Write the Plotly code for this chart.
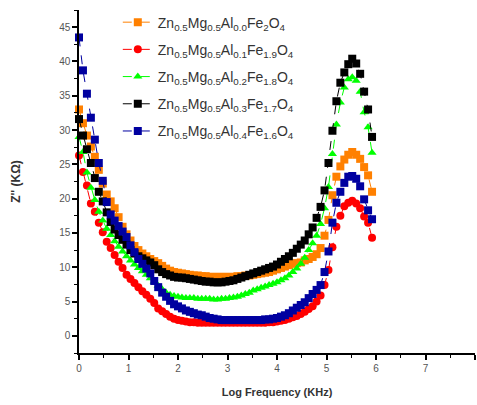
import plotly.graph_objects as go

# Log frequency (KHz) sweep points
log_freq = [
    0.00, 0.08, 0.16, 0.24, 0.32, 0.40, 0.48, 0.56, 0.64, 0.72,
    0.80, 0.88, 0.96, 1.04, 1.12, 1.20, 1.28, 1.36, 1.44, 1.52,
    1.60, 1.68, 1.76, 1.84, 1.92, 2.00, 2.08, 2.16, 2.24, 2.32,
    2.40, 2.48, 2.56, 2.64, 2.72, 2.80, 2.88, 2.96, 3.04, 3.12,
    3.20, 3.28, 3.36, 3.44, 3.52, 3.60, 3.68, 3.76, 3.84, 3.92,
    4.00, 4.08, 4.16, 4.24, 4.32, 4.40, 4.48, 4.56, 4.64, 4.72,
    4.80, 4.88, 4.96, 5.04, 5.12, 5.20, 5.28, 5.36, 5.44, 5.52,
    5.60, 5.68, 5.76, 5.84, 5.92,
]

# Z'' (KOhm) for each composition
z_al00 = [
    33.0, 31.0, 29.2, 27.6, 26.1, 24.2, 22.2, 20.6, 19.6, 18.6,
    17.3, 15.9, 14.8, 13.9, 13.1, 12.5, 12.0, 11.6, 11.2, 10.9,
    10.6, 10.2, 9.8, 9.5, 9.3, 9.2, 9.1, 9.0, 8.9, 8.8,
    8.8, 8.7, 8.7, 8.6, 8.6, 8.6, 8.6, 8.6, 8.6, 8.6,
    8.7, 8.7, 8.8, 8.8, 8.9, 9.0, 9.1, 9.2, 9.3, 9.5,
    9.7, 9.9, 10.1, 10.3, 10.5, 10.6, 10.7, 11.0, 11.2, 11.5,
    11.9, 12.8, 14.6, 16.9, 20.5, 23.2, 24.7, 25.7, 26.4, 26.8,
    26.4, 25.8, 24.6, 23.4, 21.0,
]
z_al01 = [
    26.3, 23.9, 21.9, 19.3, 18.1, 16.5, 15.1, 13.7, 12.8, 11.8,
    10.8, 9.9, 8.9, 8.3, 7.7, 7.1, 6.5, 6.0, 5.4, 4.8,
    4.0, 3.6, 3.2, 2.8, 2.5, 2.3, 2.2, 2.1, 2.0, 2.0,
    1.9, 1.9, 1.9, 1.9, 1.9, 1.9, 1.9, 1.9, 1.9, 1.9,
    1.9, 1.9, 1.9, 1.9, 1.9, 1.9, 1.9, 1.9, 2.0, 2.0,
    2.1, 2.2, 2.3, 2.5, 2.7, 2.9, 3.2, 3.5, 3.9, 4.3,
    5.0, 5.9, 7.4, 9.6, 12.9, 15.9, 17.5, 18.9, 19.4, 19.7,
    19.3, 18.6, 17.4, 16.5, 14.3,
]
z_al02 = [
    29.0, 26.8, 23.8, 21.6, 19.8, 18.1, 16.8, 15.6, 14.7, 13.8,
    13.0, 12.3, 11.6, 11.0, 10.4, 9.9, 9.4, 8.9, 8.4, 7.9,
    7.3, 6.8, 6.3, 6.0, 5.8, 5.7, 5.6, 5.5, 5.5, 5.5,
    5.4, 5.4, 5.4, 5.4, 5.3, 5.3, 5.4, 5.4, 5.5, 5.6,
    5.7, 5.9, 6.1, 6.3, 6.6, 6.8, 7.0, 7.2, 7.4, 7.6,
    7.8, 8.1, 8.4, 8.8, 9.3, 9.8, 10.5, 11.4, 12.5, 13.5,
    14.6, 16.3, 18.6, 21.7, 26.5, 30.8, 34.0, 36.2, 37.4, 37.7,
    37.2, 35.6, 32.6, 30.4, 26.7,
]
z_al03 = [
    31.6, 29.2, 27.2, 25.2, 23.0, 21.0, 19.6, 18.0, 16.6, 15.5,
    14.7, 14.0, 13.3, 12.5, 12.0, 11.6, 11.3, 11.0, 10.7, 10.3,
    9.7, 9.3, 9.0, 8.8, 8.6, 8.5, 8.5, 8.4, 8.3, 8.2,
    8.1, 8.0, 7.9, 7.9, 7.8, 7.8, 7.8, 7.9, 8.0, 8.1,
    8.3, 8.5, 8.7, 8.9, 9.1, 9.3, 9.5, 9.7, 9.9, 10.1,
    10.4, 10.8, 11.2, 11.6, 12.1, 12.7, 13.3, 13.9, 14.8, 15.8,
    17.2, 18.8, 21.2, 25.2, 29.9, 34.2, 36.9, 38.4, 39.6, 40.4,
    39.7, 38.2, 35.6, 33.0, 29.0,
]
z_al04 = [
    43.5, 38.7, 35.3, 31.8, 28.6, 25.2, 22.6, 19.5, 17.7, 16.8,
    16.0, 15.2, 14.4, 13.2, 12.2, 11.2, 10.5, 9.8, 9.1, 8.0,
    7.1, 6.3, 5.7, 5.1, 4.6, 4.3, 4.0, 3.7, 3.5, 3.3,
    3.1, 3.0, 2.8, 2.6, 2.5, 2.4, 2.3, 2.3, 2.3, 2.3,
    2.3, 2.3, 2.3, 2.3, 2.3, 2.3, 2.3, 2.4, 2.4, 2.5,
    2.6, 2.8, 3.0, 3.3, 3.7, 4.1, 4.5, 4.9, 5.5, 6.1,
    6.7, 7.4, 9.3, 12.3, 16.5, 19.4, 21.0, 22.3, 23.2, 23.3,
    22.9, 21.8, 19.9, 18.3, 17.0,
]

series_names = [
    "Zn<sub>0.5</sub>Mg<sub>0.5</sub>Al<sub>0.0</sub>Fe<sub>2</sub>O<sub>4</sub>",
    "Zn<sub>0.5</sub>Mg<sub>0.5</sub>Al<sub>0.1</sub>Fe<sub>1.9</sub>O<sub>4</sub>",
    "Zn<sub>0.5</sub>Mg<sub>0.5</sub>Al<sub>0.2</sub>Fe<sub>1.8</sub>O<sub>4</sub>",
    "Zn<sub>0.5</sub>Mg<sub>0.5</sub>Al<sub>0.3</sub>Fe<sub>1.7</sub>O<sub>4</sub>",
    "Zn<sub>0.5</sub>Mg<sub>0.5</sub>Al<sub>0.4</sub>Fe<sub>1.6</sub>O<sub>4</sub>",
]
series_values = [z_al00, z_al01, z_al02, z_al03, z_al04]
series_colors = ["#FF8000", "#FF0000", "#00FF00", "#000000", "#0000A0"]
series_symbols = ["square", "circle", "triangle-up", "square", "square"]

fig = go.Figure()
for i, (name, vals, color, symbol) in enumerate(zip(series_names, series_values, series_colors, series_symbols)):
    fig.add_trace(go.Scatter(
        x=log_freq, y=vals, name=name, mode="lines+markers",
        legendgroup=f"g{i}",
        line=dict(color=color, width=1, dash="dash"),
        marker=dict(color=color, symbol=symbol, size=8),
        cliponaxis=False,
    ))

axis_font = dict(family="Liberation Sans, Arial, sans-serif", size=10, color="#555555")

fig.update_layout(
    width=477, height=405,
    margin=dict(l=79, r=2, t=10, b=52),
    paper_bgcolor="white", plot_bgcolor="white",
    font=dict(family="Liberation Sans, Arial, sans-serif", color="#333333"),
    legend=dict(
        x=0.098, y=1.01, xanchor="left", yanchor="top",
        bgcolor="rgba(0,0,0,0)", font=dict(size=14, color="#333333"),
        itemwidth=30, tracegroupgap=6,
    ),
    xaxis=dict(
        range=[0, 8], dtick=1, tick0=0,
        showline=True, linecolor="black", linewidth=1.5,
        ticks="outside", ticklen=5, tickwidth=1.5, tickcolor="black",
        minor=dict(ticks="outside", ticklen=3, dtick=0.5, tickcolor="black", tickwidth=1),
        showgrid=False, zeroline=False, tickfont=axis_font,
        title=dict(text="<b>Log Frequency (KHz)</b>", font=dict(size=11, color="#333333"), standoff=16),
    ),
    yaxis=dict(
        range=[-2.5, 47.5], dtick=5, tick0=0,
        showline=True, linecolor="black", linewidth=1.5,
        ticks="outside", ticklen=5, tickwidth=1.5, tickcolor="black",
        minor=dict(ticks="outside", ticklen=3, dtick=2.5, tickcolor="black", tickwidth=1),
        showgrid=False, zeroline=False, tickfont=axis_font,
        title=dict(text="<b>Z'' (KΩ)</b>", font=dict(size=12, color="#333333"), standoff=36),
    ),
)

fig.write_html("out.html")
